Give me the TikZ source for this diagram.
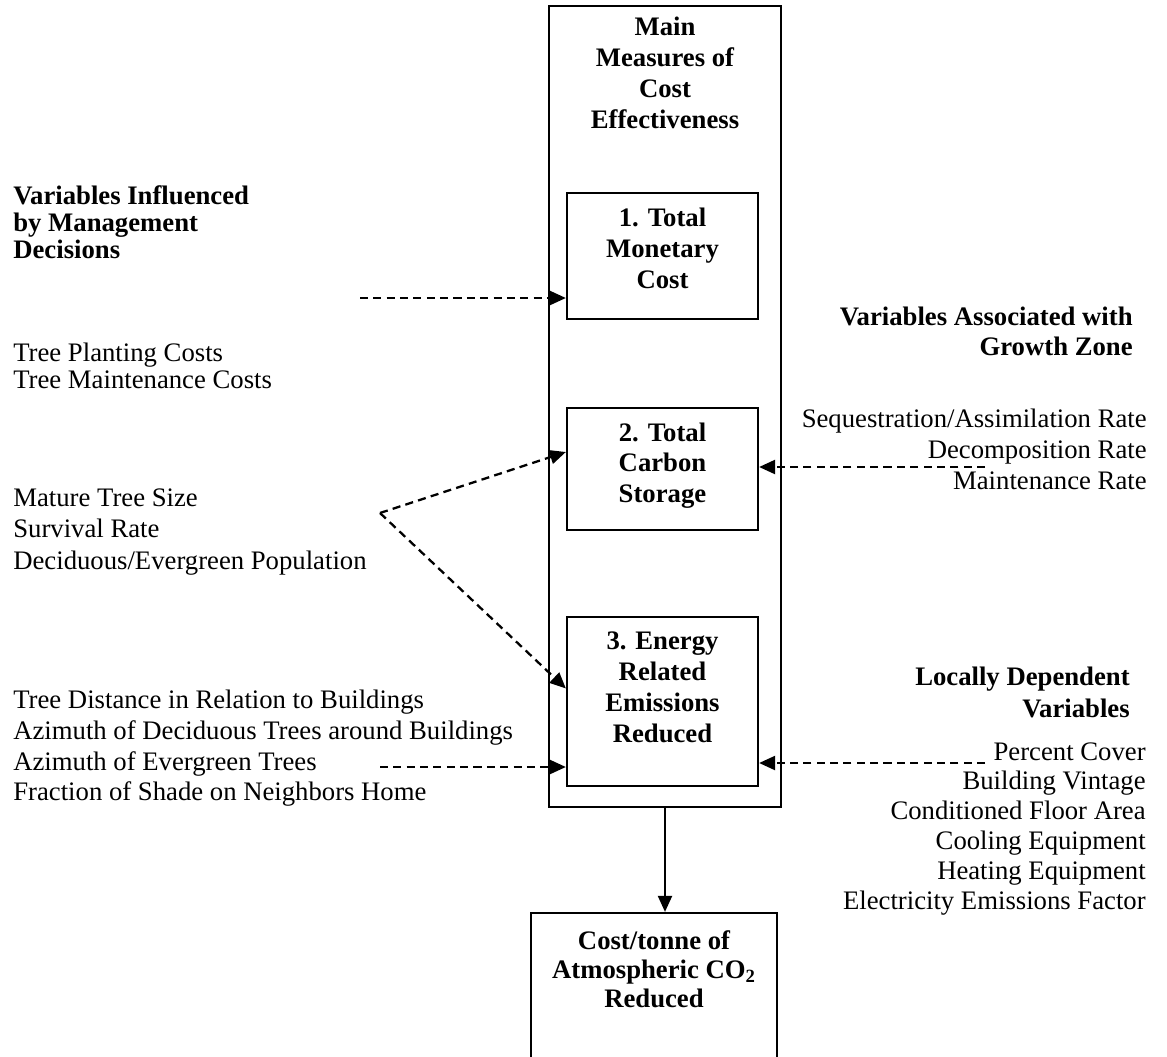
\documentclass[tikz,border=0pt]{standalone}
\usepackage{fontspec}
\setmainfont{Liberation Serif}
\usetikzlibrary{arrows.meta,positioning}
\definecolor{cbInk}{HTML}{000000}
\tikzset{
    cbFrame/.style={
        rectangle,
        draw=cbInk,
        line width=1.3pt,
        inner sep=0pt
    },
    cbHead/.style={
        align=center,
        inner sep=0pt,
        text=cbInk,
        font=\fontsize{15.2}{#1}\selectfont\bfseries
    },
    cbHead/.default=17.6,
    cbHeadR/.style={cbHead=#1, align=right},
    cbHeadL/.style={cbHead=#1, align=left},
    cbList/.style={
        align=left,
        inner sep=0pt,
        text=cbInk,
        font=\fontsize{15.2}{#1}\selectfont
    },
    cbListR/.style={cbList=#1, align=right},
    % Arrows
    cbFlow/.style={-{Triangle[length=0.32cm,width=0.28cm]}, line width=1.2pt, draw=cbInk},
    cbLink/.style={cbFlow, line width=1.3pt, dash pattern=on 4.6pt off 3pt}
}

\begin{document}
\begin{tikzpicture}[x=0.02cm, y=-0.02cm]
\useasboundingbox (0,0) rectangle (1167,1056);

% central column
\node[cbFrame, minimum width=4.64cm, minimum height=16.02cm] (outer) at (665,406.5) {};
\node[cbHead=17.6, anchor=north, below=0.24cm of outer.north] (title) {Main\\Measures of\\Cost\\Effectiveness};

\node[cbFrame, minimum width=3.82cm, minimum height=2.52cm] (b1) at (662.5,256) {};
\node[cbHead=17.6, anchor=north, below=0.32cm of b1.north] (b1t) {1. Total\\Monetary\\Cost};

\node[cbFrame, minimum width=3.82cm, minimum height=2.44cm] (b2) at (662.5,469) {};
\node[cbHead=17.2, anchor=north, below=0.32cm of b2.north] (b2t) {2. Total\\Carbon\\Storage};

\node[cbFrame, minimum width=3.82cm, minimum height=3.38cm] (b3) at (662.5,701.5) {};
\node[cbHead=17.6, anchor=north, below=0.32cm of b3.north] (b3t) {3. Energy\\Related\\Emissions\\Reduced};

\node[cbFrame, minimum width=4.92cm, minimum height=3.34cm] (res) at (654,996.5) {};
\node[cbHead=16.6, anchor=north, below=0.36cm of res.north] (rest) {Cost/tonne of\\Atmospheric CO\textsubscript{2}\\Reduced};

% left side
\node[cbHeadL=15.6, anchor=north west] (mgmtHead) at (13,185) {Variables Influenced\\by Management\\Decisions};
\node[cbList=15.3, anchor=north west] (costList) at (13,343) {Tree Planting Costs\\Tree Maintenance Costs};
\node[cbList=18.1, anchor=north west] (sizeList) at (13,488) {Mature Tree Size\\Survival Rate\\Deciduous/Evergreen Population};
\node[cbList=17.4, anchor=north west] (siteList) at (13,690) {Tree Distance in Relation to Buildings\\Azimuth of Deciduous Trees around Buildings\\Azimuth of Evergreen Trees\\Fraction of Shade on Neighbors Home};

% right side
\node[cbHeadR=17, anchor=north east] (zoneHead) at (1133,307) {Variables Associated with\\Growth Zone};
\node[cbListR=17.6, anchor=north east] (zoneList) at (1147,409) {Sequestration/Assimilation Rate\\Decomposition Rate\\Maintenance Rate};
\node[cbHeadR=18, anchor=north east] (localHead) at (1130,667) {Locally Dependent\\Variables};
\node[cbListR=17, anchor=north east] (localList) at (1146,742) {Percent Cover\\Building Vintage\\Conditioned Floor Area\\Cooling Equipment\\Heating Equipment\\Electricity Emissions Factor};

% free ends of the links
\coordinate (mgmtTail) at (360,298);
\coordinate (fork) at (380,513);
\coordinate (siteTail) at (380,767);
\coordinate (zoneTail) at (985,467);
\coordinate (localTail) at (985,763);

\draw[cbLink] (mgmtTail) -- (b1.west |- mgmtTail);
\draw[cbLink] (fork) -- ([yshift=0.34cm]b2.west);
\draw[cbLink] (fork) -- ([yshift=0.26cm]b3.west);
\draw[cbLink] (siteTail) -- (b3.west |- siteTail);
\draw[cbLink] (zoneTail) -- (b2.east |- zoneTail);
\draw[cbLink] (localTail) -- (b3.east |- localTail);
\draw[cbFlow] (outer.south) -- (outer.south |- res.north);
\end{tikzpicture}
\end{document}
